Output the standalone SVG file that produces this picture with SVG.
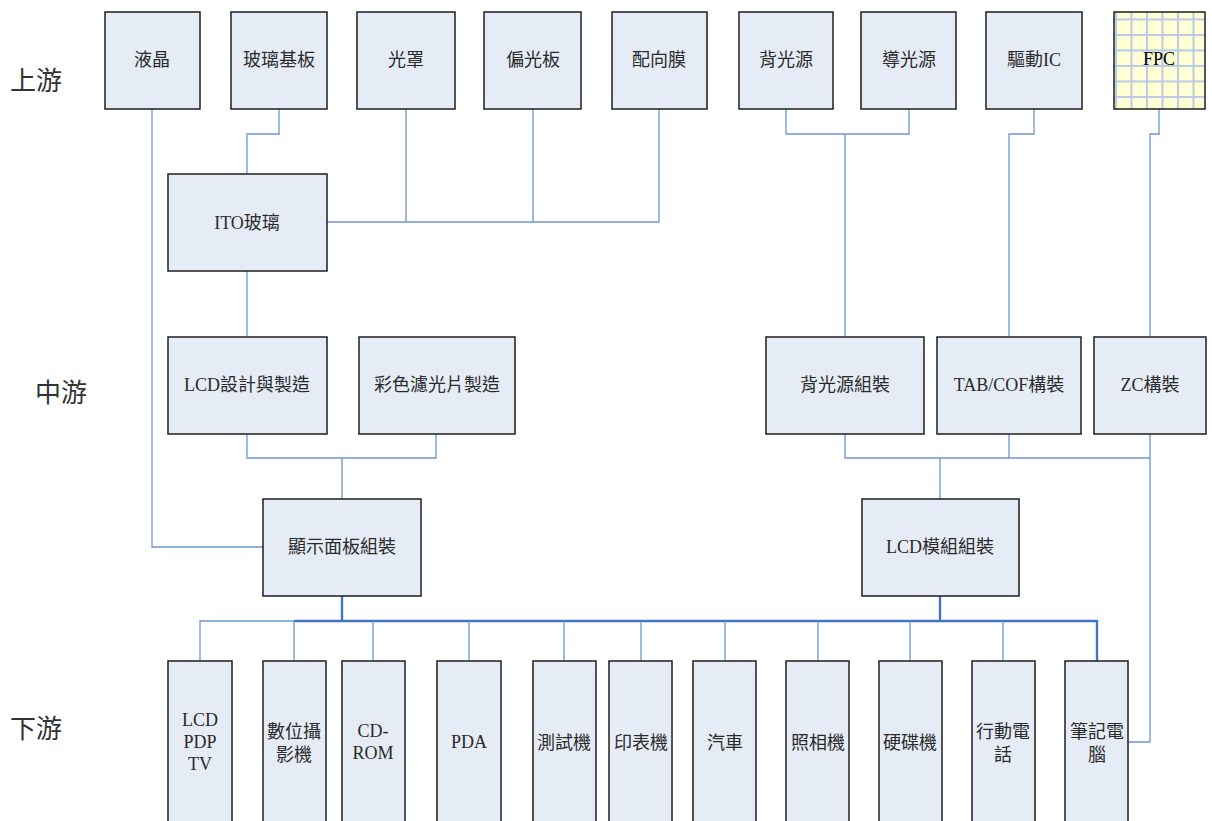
<svg xmlns="http://www.w3.org/2000/svg" width="1212" height="821" viewBox="0 0 1212 821">
<defs>
<pattern id="grid" x="1114" y="2" width="15.5" height="15.5" patternUnits="userSpaceOnUse">
<rect width="15.5" height="15.5" fill="#ffffd4"/>
<path d="M2 0V15.5M0 2H15.5" stroke="#b8cbe6" stroke-width="2" fill="none"/>
</pattern>
</defs>
<style>
.b{fill:#e6ecf6;stroke:#1e1e1e;stroke-width:1.5}
.t{font-family:"Liberation Serif","Noto Sans CJK TC",serif;font-size:18px;fill:#2a2a2a;text-anchor:middle;dominant-baseline:central}
.s{font-family:"Liberation Serif","Noto Sans CJK TC",serif;font-size:26px;fill:#333;dominant-baseline:central}
.c{fill:none;stroke:#6f95d2;stroke-width:1.3}
.k{fill:none;stroke:#4574c0;stroke-width:2.4}
</style>
<rect width="1212" height="821" fill="#fff"/>
<text class="s" x="10" y="81">上游</text>
<text class="s" x="35" y="393">中游</text>
<text class="s" x="10" y="729">下游</text>
<g id="connectors">
<path class="c" d="M152 109V547H263"/>
<path class="c" d="M279 109V134H247V174"/>
<path class="c" d="M327 222H659V109M406 109V222M533 109V222"/>
<path class="c" d="M247 271V336"/>
<path class="c" d="M786 109V134H909V109M845 134V336"/>
<path class="c" d="M1034 109V134H1009V336"/>
<path class="c" d="M1159 109V134H1150V336M1150 434V742H1128"/>
<path class="c" d="M247 434V458H436V434M342 458V499"/>
<path class="c" d="M845 434V458H1150M1009 434V458M940 458V499"/>
<path class="k" d="M342 596V621M940 596V621M294 621H1097V661"/>
<path class="c" d="M200 661V621H294"/>
<path class="c" d="M294 621V661M373 621V661M469 621V661M564 621V661M641 621V661M725 621V661M818 621V661M910 621V661M1003 621V661"/>
</g>
<g id="n-yejing"><rect class="b" x="105" y="12" width="95" height="97"/><text class="t" x="152" y="60">液晶</text></g>
<g id="n-glass"><rect class="b" x="231" y="12" width="96" height="97"/><text class="t" x="279" y="60">玻璃基板</text></g>
<g id="n-mask"><rect class="b" x="357" y="12" width="98" height="97"/><text class="t" x="406" y="60">光罩</text></g>
<g id="n-polar"><rect class="b" x="484" y="12" width="97" height="97"/><text class="t" x="533" y="60">偏光板</text></g>
<g id="n-align"><rect class="b" x="612" y="12" width="95" height="97"/><text class="t" x="659" y="60">配向膜</text></g>
<g id="n-backlight"><rect class="b" x="739" y="12" width="94" height="97"/><text class="t" x="786" y="60">背光源</text></g>
<g id="n-guide"><rect class="b" x="861" y="12" width="95" height="97"/><text class="t" x="909" y="60">導光源</text></g>
<g id="n-driver"><rect class="b" x="986" y="12" width="96" height="97"/><text class="t" x="1034" y="60">驅動IC</text></g>
<g id="n-fpc"><rect x="1114" y="12" width="91" height="97" fill="url(#grid)" stroke="#1e1e1e" stroke-width="1.5"/><text class="t" x="1159" y="59" style="fill:#000">FPC</text></g>
<g id="n-ito"><rect class="b" x="168" y="174" width="159" height="97"/><text class="t" x="247" y="223">ITO玻璃</text></g>
<g id="n-lcd"><rect class="b" x="168" y="337" width="159" height="97"/><text class="t" x="247" y="385">LCD設計與製造</text></g>
<g id="n-cf"><rect class="b" x="359" y="337" width="156" height="97"/><text class="t" x="437" y="385">彩色濾光片製造</text></g>
<g id="n-blu"><rect class="b" x="766" y="337" width="158" height="97"/><text class="t" x="845" y="385">背光源組裝</text></g>
<g id="n-tab"><rect class="b" x="937" y="337" width="144" height="97"/><text class="t" x="1009" y="385">TAB/COF構裝</text></g>
<g id="n-zc"><rect class="b" x="1094" y="337" width="112" height="97"/><text class="t" x="1150" y="385">ZC構裝</text></g>
<g id="n-panel"><rect class="b" x="263" y="499" width="158" height="97"/><text class="t" x="342" y="547">顯示面板組裝</text></g>
<g id="n-module"><rect class="b" x="862" y="499" width="157" height="97"/><text class="t" x="940" y="547">LCD模組組裝</text></g>
<g id="n-tv"><rect class="b" x="168" y="661" width="64" height="175"/><text class="t" x="200" y="720">LCD</text><text class="t" x="200" y="742">PDP</text><text class="t" x="200" y="764">TV</text></g>
<g id="n-dv"><rect class="b" x="263" y="661" width="63" height="175"/><text class="t" x="294" y="732">數位攝</text><text class="t" x="294" y="755">影機</text></g>
<g id="n-cdrom"><rect class="b" x="342" y="661" width="63" height="175"/><text class="t" x="373" y="731">CD-</text><text class="t" x="373" y="753">ROM</text></g>
<g id="n-pda"><rect class="b" x="437" y="661" width="64" height="175"/><text class="t" x="469" y="742">PDA</text></g>
<g id="n-tester"><rect class="b" x="533" y="661" width="63" height="175"/><text class="t" x="564" y="743">測試機</text></g>
<g id="n-printer"><rect class="b" x="609" y="661" width="63" height="175"/><text class="t" x="641" y="743">印表機</text></g>
<g id="n-car"><rect class="b" x="693" y="661" width="63" height="175"/><text class="t" x="725" y="743">汽車</text></g>
<g id="n-camera"><rect class="b" x="786" y="661" width="63" height="175"/><text class="t" x="818" y="743">照相機</text></g>
<g id="n-hdd"><rect class="b" x="879" y="661" width="63" height="175"/><text class="t" x="910" y="743">硬碟機</text></g>
<g id="n-phone"><rect class="b" x="972" y="661" width="63" height="175"/><text class="t" x="1003" y="732">行動電</text><text class="t" x="1003" y="755">話</text></g>
<g id="n-nb"><rect class="b" x="1065" y="661" width="63" height="175"/><text class="t" x="1097" y="732">筆記電</text><text class="t" x="1097" y="755">腦</text></g>
</svg>
